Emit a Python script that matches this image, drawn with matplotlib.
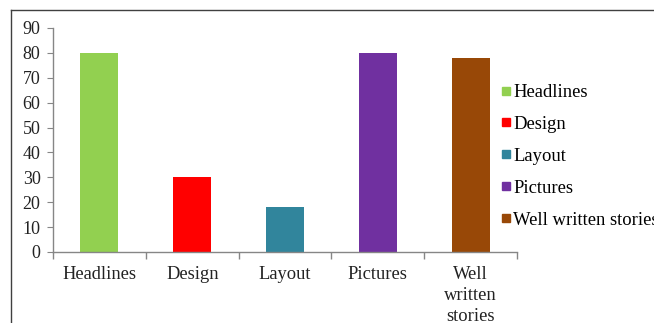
import matplotlib
matplotlib.use("Agg")
import matplotlib.pyplot as plt
from matplotlib.lines import Line2D
import numpy as np

categories = ["Headlines", "Design", "Layout", "Pictures", "Well written stories"]
tick_labels = ["Headlines", "Design", "Layout", "Pictures", "Well\nwritten\nstories"]
values = [80, 30, 18, 80, 78]
colors = ["#92D050", "#FF0000", "#31859C", "#7030A0", "#984807"]

plt.rcParams["font.family"] = ["Liberation Serif", "DejaVu Serif"]

fig = plt.figure(figsize=(6.54, 3.23), dpi=100)
ax = fig.add_axes([53 / 654, 1 - 252 / 323, 464 / 654, 224 / 323])

x = np.arange(len(categories))
ax.bar(x, values, width=0.41, color=colors)

ax.set_xlim(-0.5, len(categories) - 0.5)
ax.set_ylim(0, 90)
ax.set_yticks(range(0, 91, 10))

# category boundaries get the tick marks, labels sit at the centres
ax.set_xticks(np.arange(-0.5, len(categories), 1.0))
ax.set_xticklabels([])
ax.set_xticks(x, minor=True)
ax.set_xticklabels(tick_labels, minor=True, fontsize=13.3, color="#222222", linespacing=1.3)
ax.tick_params(axis="x", which="major", length=5, color="#868686", width=1)
ax.tick_params(axis="x", which="minor", length=0, pad=10)
ax.tick_params(axis="y", length=4, color="#868686", labelsize=13, labelcolor="#222222", pad=5)

for s in ("top", "right"):
    ax.spines[s].set_visible(False)
for s in ("left", "bottom"):
    ax.spines[s].set_color("#868686")
    ax.spines[s].set_linewidth(1)

handles = [Line2D([], [], marker="s", linestyle="none", markersize=6,
                  markerfacecolor=c, markeredgecolor=c) for c in colors]
fig.legend(handles, categories, loc="upper left", bbox_to_anchor=(500 / 654, 1 - 84 / 323),
           frameon=False, fontsize=13.4, handlelength=0.6, handletextpad=0.1,
           labelspacing=0.8, borderpad=0, borderaxespad=0)

# outer chart frame (cropped at the right and bottom)
fig.add_artist(Line2D([11 / 654, 11 / 654], [0, 1 - 10 / 323], transform=fig.transFigure,
                      color="#404040", lw=1))
fig.add_artist(Line2D([11 / 654, 1], [1 - 10 / 323, 1 - 10 / 323], transform=fig.transFigure,
                      color="#404040", lw=1))

fig.savefig("out.png", dpi=100)
